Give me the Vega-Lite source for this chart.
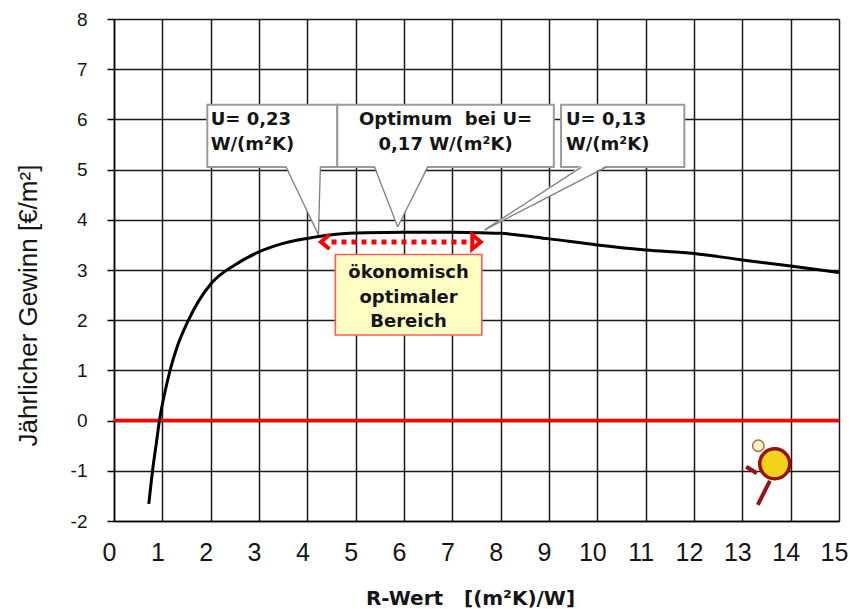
{
  "$schema": "https://vega.github.io/schema/vega-lite/v6.json",
  "autosize": "none",
  "width": 725,
  "height": 502,
  "padding": {"left": 114, "top": 19, "right": 11, "bottom": 88},
  "background": "white",
  "view": {"stroke": null},
  "config": {
    "font": "Liberation Sans",
    "axis": {
      "gridColor": "#1a1a1a",
      "gridWidth": 1.5,
      "gridOpacity": 1,
      "domainColor": "#000000",
      "domainWidth": 1.5,
      "labelColor": "#151515",
      "titleColor": "#151515",
      "labelFont": "Liberation Sans"
    }
  },
  "datasets": {
    "curve": [
      {"x": 0.72, "y": -1.66}, {"x": 0.8, "y": -0.98}, {"x": 0.88, "y": -0.42}, {"x": 0.94, "y": 0},
      {"x": 1.05, "y": 0.55}, {"x": 1.16, "y": 1.0}, {"x": 1.3, "y": 1.45}, {"x": 1.54, "y": 2.0},
      {"x": 1.75, "y": 2.38}, {"x": 2.02, "y": 2.74}, {"x": 2.5, "y": 3.1}, {"x": 3.02, "y": 3.37},
      {"x": 3.5, "y": 3.53}, {"x": 4.12, "y": 3.65}, {"x": 4.6, "y": 3.71}, {"x": 5.2, "y": 3.74},
      {"x": 6, "y": 3.75}, {"x": 7, "y": 3.75}, {"x": 7.6, "y": 3.74}, {"x": 8, "y": 3.73},
      {"x": 9, "y": 3.62}, {"x": 10, "y": 3.5}, {"x": 11, "y": 3.4}, {"x": 12, "y": 3.33},
      {"x": 13, "y": 3.2}, {"x": 14, "y": 3.08}, {"x": 15, "y": 2.95}
    ],
    "boxes": [
      {"x": 1.93, "x2": 4.62, "y": 6.29, "y2": 5.05},
      {"x": 4.62, "x2": 9.1, "y": 6.29, "y2": 5.05},
      {"x": 9.25, "x2": 11.8, "y": 6.29, "y2": 5.05}
    ],
    "pointers": [
      {"id": "a", "x": 3.56, "y": 5.08, "y2": 5.08},
      {"id": "a", "x": 4.23, "y": 5.08, "y2": 3.7},
      {"id": "a", "x": 4.27, "y": 5.08, "y2": 5.08},
      {"id": "b", "x": 5.39, "y": 5.08, "y2": 5.08},
      {"id": "b", "x": 5.87, "y": 5.08, "y2": 3.86},
      {"id": "b", "x": 6.49, "y": 5.08, "y2": 5.08},
      {"id": "c", "x": 7.67, "y": 3.8, "y2": 3.8},
      {"id": "c", "x": 9.67, "y": 5.08, "y2": 4.8},
      {"id": "c", "x": 10.18, "y": 5.08, "y2": 5.08}
    ],
    "edges": [
      {"x": 3.56, "y": 5.05, "x2": 4.23, "y2": 3.7},
      {"x": 4.27, "y": 5.05, "x2": 4.23, "y2": 3.7},
      {"x": 5.39, "y": 5.05, "x2": 5.87, "y2": 3.86},
      {"x": 6.49, "y": 5.05, "x2": 5.87, "y2": 3.86},
      {"x": 9.67, "y": 5.05, "x2": 7.67, "y2": 3.8},
      {"x": 10.18, "y": 5.05, "x2": 7.67, "y2": 3.8}
    ],
    "leftText": [
      {"x": 2.0, "y": 5.99, "t": "U= 0,23"},
      {"x": 2.0, "y": 5.49, "t": "W/(m²K)"},
      {"x": 9.35, "y": 5.99, "t": "U= 0,13"},
      {"x": 9.35, "y": 5.49, "t": "W/(m²K)"}
    ],
    "centerText": [
      {"x": 6.86, "y": 5.99, "t": "Optimum\u00a0 bei U="},
      {"x": 6.86, "y": 5.49, "t": "0,17 W/(m²K)"}
    ],
    "range": [{"x": 4.58, "x2": 7.61, "y": 3.31, "y2": 1.705}],
    "rangeText": [
      {"x": 6.095, "y": 2.94, "t": "ökonomisch"},
      {"x": 6.095, "y": 2.44, "t": "optimaler"},
      {"x": 6.095, "y": 1.96, "t": "Bereich"}
    ],
    "zero": [{"x": 0, "x2": 15, "y": 0}],
    "arrow": [{"x": 4.5, "x2": 7.45, "y": 3.56}],
    "headL": [{"x": 4.37, "y": 3.56}],
    "headR": [{"x": 7.5, "y": 3.56}],
    "logoLines": [{"x": 13.08, "x2": 13.3, "y": -0.92, "y2": -1.05}, {"x": 13.57, "x2": 13.32, "y": -1.2, "y2": -1.68}],
    "logoBlob": [{"x": 13.67, "y": -0.86}],
    "logoDot": [{"x": 13.33, "y": -0.5}]
  },
  "encoding": {
    "x": {
      "field": "x", "type": "quantitative",
      "scale": {"domain": [0, 15], "nice": false, "zero": false},
      "axis": {
        "values": [0, 1, 2, 3, 4, 5, 6, 7, 8, 9, 10, 11, 12, 13, 14, 15],
        "grid": true,
        "ticks": false,
        "labelFontSize": 25,
        "labelPadding": 19,
        "labelOffset": -5,
        "labelFlush": false,
        "title": "R-Wert\u00a0\u00a0 [(m²K)/W]",
        "titleFont": "DejaVu Sans",
        "titleFontSize": 20,
        "titleFontWeight": "bold",
        "titleX": 356,
        "titleY": 77,
        "titleAlign": "center",
        "titleBaseline": "middle"
      }
    },
    "y": {
      "field": "y", "type": "quantitative",
      "scale": {"domain": [-2, 8], "nice": false, "zero": false},
      "axis": {
        "values": [-2, -1, 0, 1, 2, 3, 4, 5, 6, 7, 8],
        "labelExpr": "'' + datum.value",
        "grid": true,
        "tickSize": 7,
        "tickColor": "#000000",
        "tickWidth": 1.5,
        "labelFontSize": 19,
        "labelPadding": 20,
        "title": "Jährlicher Gewinn [€/m²]",
        "titleFont": "Liberation Sans",
        "titleFontSize": 26,
        "titleFontWeight": "normal",
        "titleAngle": -90,
        "titleX": -86,
        "titleY": 286,
        "titleAlign": "center",
        "titleBaseline": "middle"
      }
    }
  },
  "layer": [
    {
      "data": {"name": "zero"},
      "mark": {"type": "rule", "color": "#ff0000", "strokeWidth": 3.5},
      "encoding": {"x2": {"field": "x2"}}
    },
    {
      "data": {"name": "boxes"},
      "mark": {"type": "rect", "fill": "#ffffff", "stroke": "#9a9a9a", "strokeWidth": 2},
      "encoding": {"x2": {"field": "x2"}, "y2": {"field": "y2"}}
    },
    {
      "data": {"name": "pointers"},
      "mark": {"type": "area", "fill": "#ffffff", "opacity": 1},
      "encoding": {
        "y": {"field": "y", "type": "quantitative", "stack": null},
        "y2": {"field": "y2"},
        "detail": {"field": "id"}
      }
    },
    {
      "data": {"name": "edges"},
      "mark": {"type": "rule", "color": "#808080", "strokeWidth": 1.3},
      "encoding": {"x2": {"field": "x2"}, "y2": {"field": "y2"}}
    },
    {
      "data": {"name": "leftText"},
      "mark": {"type": "text", "align": "left", "baseline": "middle", "font": "DejaVu Sans", "fontWeight": "bold", "fontSize": 18, "color": "#151515"},
      "encoding": {"text": {"field": "t"}}
    },
    {
      "data": {"name": "centerText"},
      "mark": {"type": "text", "align": "center", "baseline": "middle", "font": "DejaVu Sans", "fontWeight": "bold", "fontSize": 18, "color": "#151515"},
      "encoding": {"text": {"field": "t"}}
    },
    {
      "data": {"name": "curve"},
      "mark": {"type": "line", "color": "#000000", "strokeWidth": 3, "interpolate": "monotone"},
      "encoding": {}
    },
    {
      "data": {"name": "arrow"},
      "mark": {"type": "rule", "color": "#ff0000", "strokeWidth": 5, "strokeDash": [5, 5]},
      "encoding": {"x2": {"field": "x2"}}
    },
    {
      "data": {"name": "headL"},
      "mark": {"type": "point", "shape": "M0.6,-1L-0.6,0L0.6,1", "filled": false, "stroke": "#ff0000", "strokeWidth": 4, "size": 200, "opacity": 1},
      "encoding": {}
    },
    {
      "data": {"name": "headR"},
      "mark": {"type": "point", "shape": "M-0.6,-1L0.6,0L-0.6,1Z", "filled": false, "stroke": "#ff0000", "strokeWidth": 4, "size": 200, "opacity": 1},
      "encoding": {}
    },
    {
      "data": {"name": "range"},
      "mark": {"type": "rect", "fill": "#ffffc4", "stroke": "#ff5a5a", "strokeWidth": 1.6},
      "encoding": {"x2": {"field": "x2"}, "y2": {"field": "y2"}}
    },
    {
      "data": {"name": "rangeText"},
      "mark": {"type": "text", "align": "center", "baseline": "middle", "font": "DejaVu Sans", "fontWeight": "bold", "fontSize": 18, "color": "#151515"},
      "encoding": {"text": {"field": "t"}}
    },
    {
      "data": {"name": "logoLines"},
      "mark": {"type": "rule", "color": "#9b1010", "strokeWidth": 4},
      "encoding": {"x2": {"field": "x2"}, "y2": {"field": "y2"}}
    },
    {
      "data": {"name": "logoBlob"},
      "mark": {"type": "point", "shape": "circle", "filled": true, "fill": "#f4d21c", "stroke": "#9b1010", "strokeWidth": 3.5, "size": 900, "opacity": 1},
      "encoding": {}
    },
    {
      "data": {"name": "logoDot"},
      "mark": {"type": "point", "shape": "circle", "filled": true, "fill": "#fff4c8", "stroke": "#b06a40", "strokeWidth": 1.5, "size": 130, "opacity": 1},
      "encoding": {}
    }
  ]
}
